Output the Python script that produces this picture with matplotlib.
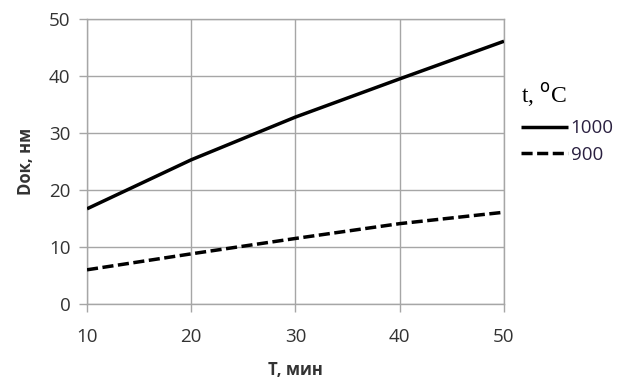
import matplotlib
matplotlib.use("Agg")
import matplotlib.pyplot as plt

time_min = [10, 20, 30, 40, 50]
d_1000 = [16.7, 25.3, 32.8, 39.5, 46.1]
d_900 = [6.0, 8.8, 11.5, 14.1, 16.1]
series_labels = ["1000", "900"]
x_ticks = [10, 20, 30, 40, 50]
y_ticks = [0, 10, 20, 30, 40, 50]

plt.rcParams["font.family"] = ["Open Sans", "DejaVu Sans"]

fig = plt.figure(figsize=(6.22, 3.78), dpi=100)
ax = fig.add_axes([87 / 622, 1 - 304 / 378, (504 - 87) / 622, (304 - 19) / 378])

grid_c = "#a6a6a6"
text_c = "#333333"

ax.plot(time_min, d_1000, color="black", lw=2.5, solid_capstyle="butt",
        label=series_labels[0], zorder=3)
ax.plot(time_min, d_900, color="black", lw=2.5, dashes=(3.2, 1.3),
        label=series_labels[1], zorder=3)

ax.set_xlim(10, 50)
ax.set_ylim(0, 50)
ax.set_xticks(x_ticks)
ax.set_yticks(y_ticks)
ax.grid(True, color=grid_c, lw=1.0)
ax.set_axisbelow(True)
for s in ax.spines.values():
    s.set_color(grid_c)
    s.set_linewidth(1.0)
ax.tick_params(axis="both", colors=grid_c, length=6, width=1.0, labelcolor=text_c,
               labelsize=13.5)
ax.tick_params(axis="x", pad=11)
ax.tick_params(axis="y", pad=6)

ax.set_xlabel("T, мин", fontsize=12, fontweight="bold", color=text_c, labelpad=11)
ax.set_ylabel("Dок, нм", fontsize=12, fontweight="bold", color=text_c, labelpad=10)

leg = ax.legend(loc="upper left", bbox_to_anchor=(1.0, 0.84), frameon=False,
                handlelength=2.5, handletextpad=0.15, labelspacing=0.45,
                borderaxespad=0.5, fontsize=13.5)
leg.set_title("t, $^{\\mathrm{o}}$C", prop={"family": "Liberation Serif", "size": 17})
leg._legend_box.align = "left"
leg._legend_box.sep = 7
for t in leg.get_texts():
    t.set_color("#2a2040")

fig.savefig("out.png", dpi=100)
